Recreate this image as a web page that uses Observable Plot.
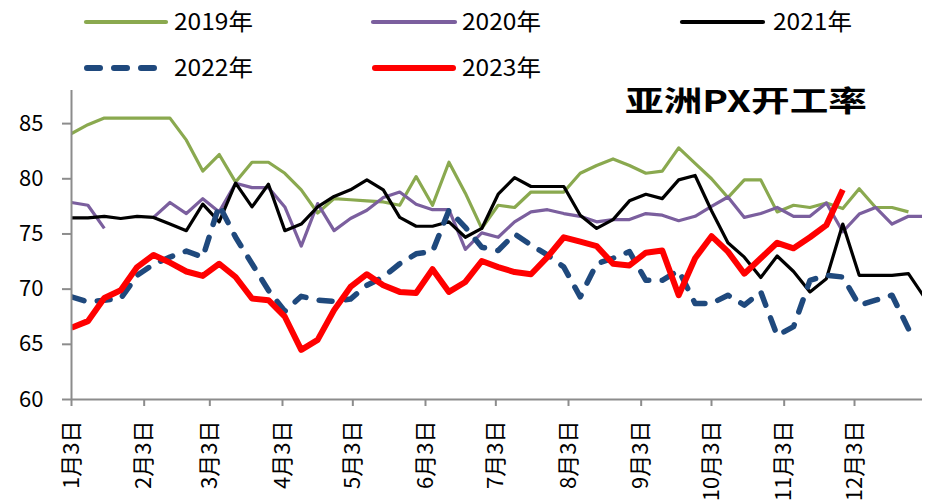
<!DOCTYPE html>
<html><head><meta charset="utf-8">
<script src="https://cdn.jsdelivr.net/npm/d3@7"></script>
<script src="https://cdn.jsdelivr.net/npm/@observablehq/plot@0.6"></script>
<style>
body{margin:0;background:#fff;}
#wrap{position:relative;width:928px;height:500px;overflow:hidden;background:#fff;}
#wrap svg{position:absolute;left:0;top:0;}
</style></head><body><div id="wrap"></div>
<script>
// ---- data ----
const seriesNames = ["2019年", "2020年", "2021年", "2022年", "2023年"];
const weekStart = "2023-01-03"; // first weekly category (1月3日)
const s2019 = [84.1,84.9,85.5,85.5,85.5,85.5,85.5,83.5,80.7,82.2,79.7,81.5,81.5,80.5,79.0,76.9,78.2,78.1,78.0,77.9,77.6,80.2,77.6,81.5,78.7,75.5,77.6,77.4,78.8,78.8,78.8,80.5,81.2,81.8,81.2,80.5,80.7,82.8,81.4,80.0,78.3,79.9,79.9,77.0,77.6,77.4,77.8,77.3,79.1,77.4,77.4,77.0];
const s2020 = [77.85,77.6,75.5,null,null,76.5,77.85,76.85,78.2,77.0,79.6,79.2,79.2,77.45,73.9,77.75,75.3,76.4,77.15,78.3,78.8,77.7,77.2,77.2,73.6,75.1,74.7,76.1,77.0,77.2,76.85,76.6,76.1,76.3,76.3,76.85,76.7,76.2,76.6,77.5,78.35,76.5,76.85,77.4,76.6,76.6,77.8,75.2,76.8,77.4,75.9,76.6,76.6];
const s2021 = [76.45,76.45,76.6,76.4,76.6,76.5,75.9,75.3,77.7,76.1,79.6,77.45,79.5,75.3,75.9,77.45,78.4,79.0,79.9,79.0,76.5,75.7,75.7,76.1,74.7,75.5,78.6,80.1,79.3,79.3,79.3,76.7,75.5,76.3,78.0,78.6,78.2,79.9,80.3,77.1,74.2,72.9,71.05,73.0,71.6,69.75,70.95,75.9,71.25,71.25,71.25,71.4,69.2];
const s2022 = [69.3,68.85,69.0,69.15,71.25,72.25,72.9,73.45,72.9,77.6,74.7,72.3,69.9,68.0,69.35,69.0,68.9,69.1,70.35,71.1,72.3,73.2,73.4,77.15,75.6,73.8,73.5,75.0,74.0,73.1,72.0,69.3,72.3,72.8,73.4,70.8,70.8,71.7,68.7,68.7,69.45,68.55,69.75,65.8,66.6,70.8,71.25,71.1,68.55,69.0,69.45,66.4];
const s2023 = [66.5,67.1,69.2,69.9,72.0,73.1,72.4,71.6,71.2,72.3,71.1,69.15,69.0,67.5,64.5,65.4,68.1,70.2,71.35,70.35,69.75,69.65,71.8,69.75,70.65,72.55,72.0,71.55,71.35,72.9,74.7,74.3,73.9,72.3,72.15,73.3,73.5,69.45,72.8,74.8,73.4,71.4,72.8,74.2,73.7,74.7,75.8,79.0];
const tickDates = ["2023-01-03","2023-02-03","2023-03-03","2023-04-03","2023-05-03","2023-06-03","2023-07-03","2023-08-03","2023-09-03","2023-10-03","2023-11-03","2023-12-03"];
const tickLabels = ["1月3日","2月3日","3月3日","4月3日","5月3日","6月3日","7月3日","8月3日","9月3日","10月3日","11月3日","12月3日"];
const yTicks = [60, 65, 70, 75, 80, 85];
const xDomain = ["2023-01-03", "2024-01-01"];
const yDomain = [60, 88];
const titleText = "亚洲PX开工率";

// ---- styles ----
const styles = [
  {color: "#8AA94F", width: 3.2, dash: null, cap: "butt"},
  {color: "#7B5F9E", width: 3.2, dash: null, cap: "butt"},
  {color: "#000000", width: 3.2, dash: null, cap: "butt"},
  {color: "#1F497D", width: 5.5, dash: "13,13.5", cap: "round"},
  {color: "#FF0000", width: 6, dash: null, cap: "butt"}
];
const allSeries = [s2019, s2020, s2021, s2022, s2023];
const t0 = new Date(weekStart + "T00:00:00Z").getTime();
const weekDate = i => new Date(t0 + i * 7 * 864e5);
const rows = allSeries.map((vals, k) => vals.map((v, i) => ({date: weekDate(i), value: v, series: seriesNames[k]})));

const axisGray = "#8C8C8C";
const font = "'Noto Sans CJK SC', 'Noto Sans', sans-serif";
const toDate = s => new Date(s + "T00:00:00Z");

const chart = Plot.plot({
  width: 928, height: 500,
  marginTop: 90, marginBottom: 101, marginLeft: 71, marginRight: 6,
  style: {fontFamily: font, background: "transparent", color: "#000", overflow: "visible"},
  x: {type: "utc", domain: xDomain.map(toDate)},
  y: {domain: yDomain},
  marks: [
    Plot.axisY({ticks: yTicks, tickSize: 9, tickPadding: 19, fontSize: 22, label: null, stroke: axisGray, strokeWidth: 2, fill: "#000"}),
    Plot.axisX({ticks: tickDates.map(toDate), tickFormat: (d) => tickLabels[tickDates.indexOf(d.toISOString().slice(0,10))], tickRotate: -90, tickSize: 7, tickPadding: 14, fontSize: 22, label: null, stroke: axisGray, strokeWidth: 2, fill: "#000"}),
    ...rows.map((r, k) => Plot.line(r, {
      x: "date", y: "value", stroke: styles[k].color, strokeWidth: styles[k].width,
      strokeDasharray: styles[k].dash || undefined, strokeLinecap: styles[k].cap, strokeLinejoin: "round",
      clip: true
    })),
    Plot.ruleX([toDate(xDomain[0])], {stroke: axisGray, strokeWidth: 2}),
    Plot.ruleY([yDomain[0]], {stroke: axisGray, strokeWidth: 2})
  ]
});
const wrap = document.getElementById("wrap");
wrap.appendChild(chart);

// ---- legend + title overlay ----
const ov = d3.select(wrap).append("svg").attr("width", 928).attr("height", 500)
  .style("font-family", font).style("pointer-events", "none");
const legendPos = [
  {x1: 86, x2: 166, y: 22, tx: 174, lw: 4.2},
  {x1: 373, x2: 455, y: 22, tx: 462, lw: 4.2},
  {x1: 682, x2: 763, y: 22, tx: 773, lw: 4.2},
  {x1: 87, x2: 157, y: 68, tx: 174, lw: 6},
  {x1: 375, x2: 453, y: 68, tx: 462, lw: 6}
];
seriesNames.forEach((name, k) => {
  const p = legendPos[k], s = styles[k];
  ov.append("line").attr("x1", p.x1).attr("x2", p.x2).attr("y1", p.y).attr("y2", p.y)
    .attr("stroke", s.color).attr("stroke-width", p.lw)
    .attr("stroke-linecap", "round")
    .attr("stroke-dasharray", s.dash ? "13,14" : null);
  ov.append("text").attr("x", p.tx).attr("y", p.y + 8).attr("font-size", 23)
    .attr("textLength", 79).attr("lengthAdjust", "spacingAndGlyphs")
    .attr("fill", "#000").text(name);
});
ov.append("text").attr("x", 625).attr("y", 112).attr("font-size", 29).attr("font-weight", "bold")
  .attr("textLength", 242).attr("lengthAdjust", "spacingAndGlyphs").attr("fill", "#000").text(titleText);
</script></body></html>
